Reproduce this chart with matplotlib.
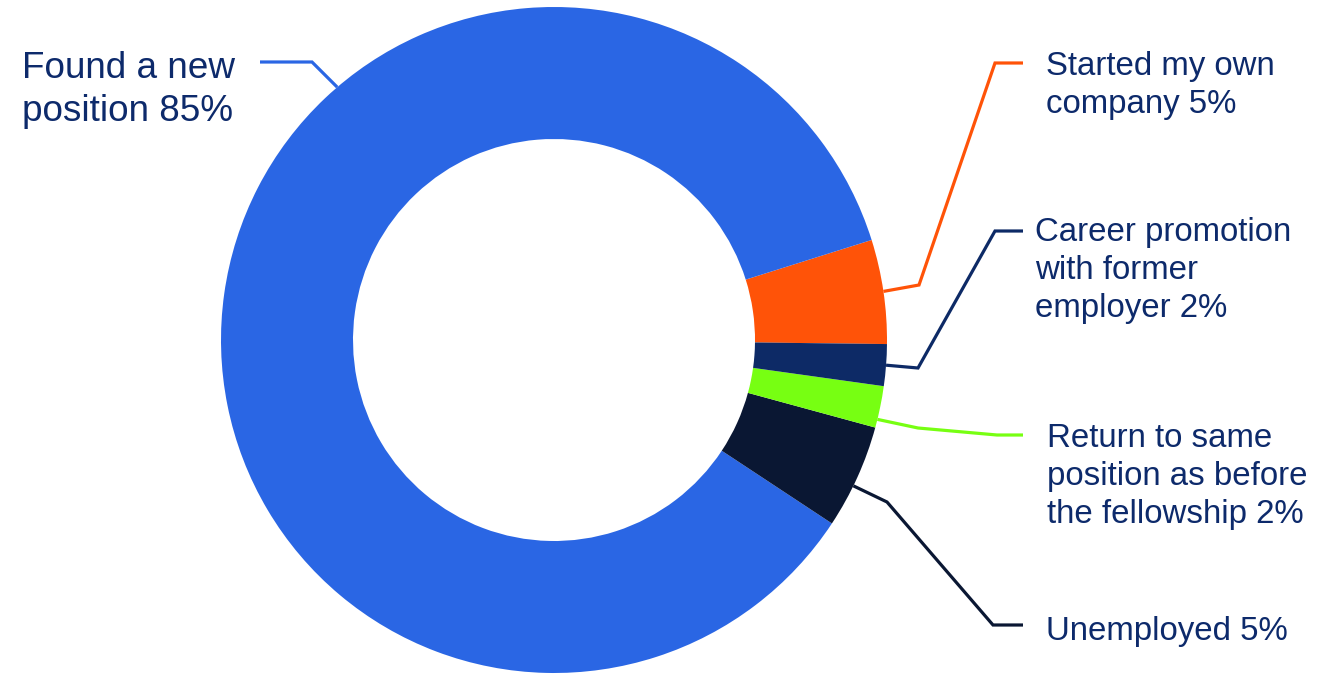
import matplotlib
matplotlib.use("Agg")
import matplotlib.pyplot as plt
import numpy as np

# data, in the order the wedges are drawn (counter-clockwise from the right)
labels = [
    "Started my own\ncompany 5%",
    "Found a new\nposition 85%",
    "Unemployed 5%",
    "Return to same\nposition as before\nthe fellowship 2%",
    "Career promotion\nwith former\nemployer 2%",
]
shares = [5, 85, 5, 2, 2]
colors = ["#ff5308", "#2a66e4", "#0a1733", "#77ff12", "#0d2a66"]

TEXT_COLOR = "#0d2a6b"
W, H = 1320, 674
CX, CY = 554, H - 340
R_OUT, R_IN = 333, 201

# layout of the labels (pixel positions, y measured from the top)
anchor_frac = [0.5, 0.366, 0.41, 0.2, 0.5]
leader_pts = [
    [(919, 285), (995, 63), (1023, 63)],
    [(312, 62), (260, 62)],
    [(887, 502), (993, 625), (1023, 625)],
    [(918, 428), (997, 435), (1023, 435)],
    [(918, 368), (995, 231), (1023, 231)],
]
# x, baseline of the last line
text_pos = [(1046, 113), (22, 121), (1046, 640), (1047, 523), (1035, 317)]
text_size = [23.8, 26.6, 23.8, 23.8, 23.8]

plt.rcParams["font.family"] = ["Liberation Sans", "DejaVu Sans"]

fig = plt.figure(figsize=(W / 100, H / 100), dpi=100)
ax = fig.add_axes([0, 0, 1, 1])

wedges, _ = ax.pie(shares, colors=colors, startangle=-0.7, counterclock=True,
                   radius=R_OUT, center=(CX, CY),
                   wedgeprops=dict(width=R_OUT - R_IN, linewidth=0))

for w, lab, frac, pts, (tx, ty), fs in zip(wedges, labels, anchor_frac,
                                           leader_pts, text_pos, text_size):
    ang = np.deg2rad(w.theta1 + frac * (w.theta2 - w.theta1))
    ax_ = CX + R_OUT * np.cos(ang)
    ay_ = CY + R_OUT * np.sin(ang)
    xs = [ax_] + [p[0] for p in pts]
    ys = [ay_] + [H - p[1] for p in pts]
    ax.plot(xs, ys, color=w.get_facecolor(), lw=2.3, solid_joinstyle="miter",
            solid_capstyle="butt")
    ax.text(tx, H - ty, lab, fontsize=fs, color=TEXT_COLOR, ha="left",
            va="baseline", linespacing=1.3)

ax.set_xlim(0, W)
ax.set_ylim(0, H)
ax.set_aspect("equal")
ax.axis("off")

fig.savefig("out.png", dpi=100)
